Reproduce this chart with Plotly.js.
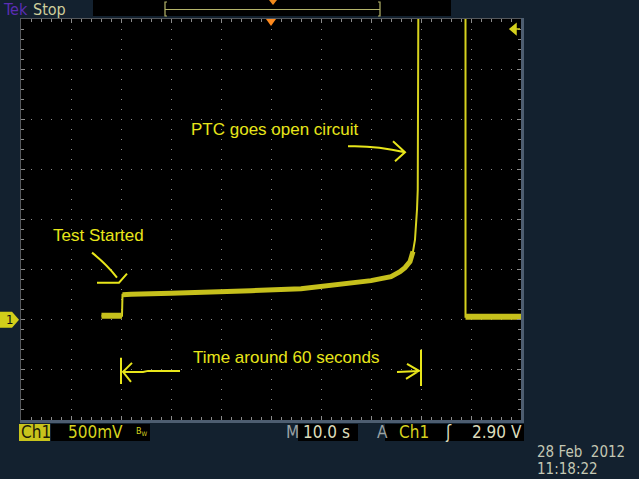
<!DOCTYPE html>
<html>
<head>
<meta charset="utf-8">
<script src="https://cdn.plot.ly/plotly-3.0.1.min.js"></script>
<style>
  html, body { margin: 0; padding: 0; background: #13212f; }
  #scope { width: 639px; height: 479px; }
</style>
</head>
<body>
<div id="scope"></div>
<script>
// Channel 1 capture of a PTC thermistor run (seconds, volts)
const preT  = [-33.9, -29.8];
const preV  = [0.04, 0.04];
const rampT = [-29.7, -28.0, -20.0, -12.0, -4.0, 6.0, 14.0, 20.0, 22.0, 24.0, 25.8, 26.8, 27.8, 28.4, 28.8, 29.0, 29.2, 29.35];
const rampV = [0.25, 0.255, 0.265, 0.275, 0.29, 0.31, 0.35, 0.39, 0.41, 0.43, 0.48, 0.52, 0.58, 0.68, 0.80, 0.92, 1.10, 1.30];
const openT = [29.5, 38.9, 38.9];
const openV = [3.6, 3.6, 0.03];
const postT = [38.9, 50.0];
const postV = [0.03, 0.03];

// Scope settings shown in the readout
const voltsPerDiv  = 0.5;
const secPerDiv    = 10;
const groundLevel  = 0;
const triggerLevel = 2.90;
const channel      = 'Ch1';
const stampDate    = '28 Feb&nbsp; 2012';
const stampTime    = '11:18:22';

// Screen helpers: pixel -> paper fraction of the 500x401 graticule
const PX = x => (x - 21) / 500;
const PY = y => (420 - y) / 401;

const YEL = '#d6d21e';
const NOTE = '#e8e61a';
const GRID = '#8a8a8a';
const CREAM = '#dcdcbc';
const FONT = 'DejaVu Sans Condensed, Liberation Sans Narrow, DejaVu Sans';

const allT = preT.concat(rampT, openT, postT);
const allV = preV.concat(rampV, openV, postV);
const flatN = 14;

const traces = [
  { x: allT, y: allV, type: 'scatter', mode: 'lines', line: { color: YEL, width: 2 }, hoverinfo: 'skip' },
  { x: preT, y: preV, type: 'scatter', mode: 'lines', line: { color: '#c6c01c', width: 6 }, hoverinfo: 'skip' },
  { x: rampT.slice(0, flatN), y: rampV.slice(0, flatN), type: 'scatter', mode: 'lines', line: { color: '#c6c01c', width: 5 }, hoverinfo: 'skip' },
  { x: postT, y: postV, type: 'scatter', mode: 'lines', line: { color: '#c6c01c', width: 6 }, hoverinfo: 'skip' }
];

const xRange = [-5 * secPerDiv, 5 * secPerDiv];
const yRange = [groundLevel - 2 * voltsPerDiv, groundLevel + 6 * voltsPerDiv];

const baseAxis = {
  showticklabels: false, zeroline: false, showline: true, linecolor: '#55585c',
  mirror: 'ticks', ticks: 'inside', ticklen: 4, tickcolor: GRID,
  showgrid: true, gridcolor: GRID, griddash: '1px,9px', gridwidth: 1, fixedrange: true
};
const crossAxis = {
  showticklabels: false, zeroline: false, showline: false, showgrid: false,
  anchor: 'free', position: 0.5, ticklen: 3, tickcolor: GRID, fixedrange: true
};

function txt(text, x, y, opts) {
  return Object.assign({
    text: text, x: x, y: y, xref: 'paper', yref: 'paper', showarrow: false, borderpad: 0,
    xanchor: 'left', yanchor: 'middle', font: { family: FONT, size: 17, color: CREAM }
  }, opts || {});
}
function note(text, x, y) {
  return { text: text, x: x, y: y, xref: 'x', yref: 'y', showarrow: false,
    font: { family: 'Liberation Sans, Arial', size: 17, color: NOTE } };
}
// hand-drawn pointer: path in pixels relative to its tip
function pointer(x, y, path) {
  return { type: 'path', xref: 'x', yref: 'y', xsizemode: 'pixel', ysizemode: 'pixel',
    xanchor: x, yanchor: y, path: path, line: { color: NOTE, width: 2 } };
}

const annotations = [
  note('PTC goes open circuit', 0.8, 1.90),
  note('Test Started', -34.6, 0.84),
  note('Time around 60 seconds', 3.0, -0.38),
  // top status bar
  txt('Tek', PX(2), PY(9), { font: { family: FONT, size: 16, color: '#5b2db4' } }),
  txt('Stop', PX(32), PY(9), { font: { family: FONT, size: 16, color: '#cfcf9c' } }),
  // ground marker label
  { text: '1', x: 0, y: groundLevel, xref: 'paper', yref: 'y', xanchor: 'center', yanchor: 'middle',
    xshift: -12, showarrow: false, font: { family: FONT, size: 13, color: '#101010' } },
  // bottom readout
  txt(channel, PX(20), PY(432), { font: { family: FONT, size: 17, color: '#1c1c08' } }),
  txt((voltsPerDiv * 1000) + 'mV', PX(67), PY(432), { font: { family: FONT, size: 17, color: YEL } }),
  txt('B<sub>W</sub>', PX(135), PY(431), { font: { family: FONT, size: 9, color: YEL } }),
  txt('M', PX(285), PY(432), { font: { family: FONT, size: 17, color: '#9aa2a4' } }),
  txt(secPerDiv.toFixed(1) + ' s', PX(302), PY(432)),
  txt('A', PX(376), PY(432), { font: { family: FONT, size: 17, color: '#9aa2a4' } }),
  txt(channel, PX(398), PY(432), { font: { family: FONT, size: 17, color: YEL } }),
  txt('ʃ', PX(444), PY(432), { font: { family: FONT, size: 17, color: CREAM } }),
  txt(triggerLevel.toFixed(2) + ' V', PX(523), PY(432), { xanchor: 'right' }),
  txt(stampDate, PX(536), PY(452), { font: { family: FONT, size: 15, color: '#c4c8b4' } }),
  txt(stampTime, PX(536), PY(469), { font: { family: FONT, size: 15, color: '#c4c8b4' } })
];

const shapes = [
  // top status bar
  { type: 'rect', xref: 'paper', yref: 'paper', x0: PX(93), x1: PX(451), y0: PY(16), y1: PY(-2), fillcolor: '#000', line: { width: 0 } },
  { type: 'line', xref: 'paper', yref: 'paper', x0: PX(165), x1: PX(380), y0: PY(9.5), y1: PY(9.5), line: { color: '#b4b46a', width: 1.2 } },
  { type: 'path', xref: 'paper', yref: 'paper', path:
      'M' + PX(167) + ',' + PY(2) + ' L' + PX(165) + ',' + PY(2) + ' L' + PX(165) + ',' + PY(16) + ' L' + PX(167) + ',' + PY(16) +
      ' M' + PX(378) + ',' + PY(2) + ' L' + PX(380) + ',' + PY(2) + ' L' + PX(380) + ',' + PY(16) + ' L' + PX(378) + ',' + PY(16),
    line: { color: '#b4b46a', width: 1.2 } },
  { type: 'path', xref: 'paper', yref: 'paper', xsizemode: 'pixel', ysizemode: 'pixel', xanchor: PX(273), yanchor: PY(0),
    path: 'M-4,0 L4,0 L0,-5 Z', fillcolor: '#f08a1c', line: { width: 0 } },
  // trigger position marker
  { type: 'path', xref: 'x', yref: 'paper', xsizemode: 'pixel', ysizemode: 'pixel', xanchor: 0, yanchor: 1,
    path: 'M-5,0 L5,0 L0,-7 Z', fillcolor: '#ff8a1e', line: { width: 0 } },
  // trigger level marker
  { type: 'path', xref: 'paper', yref: 'y', xsizemode: 'pixel', ysizemode: 'pixel', xanchor: 1, yanchor: triggerLevel,
    path: 'M-11,0 L-5,5 L-5,-5 Z M-5,0 L-1,0', fillcolor: YEL, line: { color: YEL, width: 1.5 } },
  // ground marker
  { type: 'path', xref: 'paper', yref: 'y', xsizemode: 'pixel', ysizemode: 'pixel', xanchor: 0, yanchor: groundLevel,
    path: 'M-21,-8 L-9,-8 L-2,0 L-9,8 L-21,8 Z', fillcolor: '#d2ce1a', line: { width: 0 } },
  // graticule frame on the right and bottom
  { type: 'line', xref: 'paper', yref: 'paper', x0: PX(522.5), x1: PX(522.5), y0: PY(421), y1: PY(18), line: { color: '#4d5d70', width: 3 } },
  { type: 'line', xref: 'paper', yref: 'paper', x0: PX(20), x1: PX(524), y0: PY(421.5), y1: PY(421.5), line: { color: '#4d5d70', width: 3 } },
  // readout boxes
  { type: 'rect', xref: 'paper', yref: 'paper', x0: PX(19), x1: PX(50), y0: PY(441), y1: PY(424), fillcolor: '#c8c41c', line: { width: 0 } },
  { type: 'rect', xref: 'paper', yref: 'paper', x0: PX(51), x1: PX(150), y0: PY(441), y1: PY(424), fillcolor: '#000', line: { width: 0 } },
  { type: 'rect', xref: 'paper', yref: 'paper', x0: PX(298), x1: PX(358), y0: PY(441), y1: PY(424), fillcolor: '#000', line: { width: 0 } },
  { type: 'rect', xref: 'paper', yref: 'paper', x0: PX(385), x1: PX(524), y0: PY(441), y1: PY(424), fillcolor: '#000', line: { width: 0 } },
  // hand-drawn pointers
  pointer(26.8, 1.67, 'M-57,6 Q-30,7 0,0 M-12,11 L0,0 L-10,-9'),
  pointer(-30.0, 0.39, 'M-29,28 Q-14,16 -4,3 M-24,-2 L-2,-2 L6,7'),
  pointer(-29.6, -0.52, 'M57,1 L25,1 L20,0 L0,0 M9,9 L0,0 L8,-10'),
  pointer(29.6, -0.51, 'M-22,-1 L0,0 M-12,7 L0,0 L-13,-8'),
  // span markers under the time note
  { type: 'line', xref: 'x', yref: 'y', x0: -30.0, x1: -30.0, y0: -0.38, y1: -0.64, line: { color: NOTE, width: 2 } },
  { type: 'line', xref: 'x', yref: 'y', x0: 30.0, x1: 30.0, y0: -0.30, y1: -0.66, line: { color: NOTE, width: 2 } }
];

const layout = {
  width: 639, height: 479,
  margin: { l: 21, r: 118, t: 19, b: 59, pad: 0 },
  paper_bgcolor: '#13212f', plot_bgcolor: '#000000',
  showlegend: false, hovermode: false,
  xaxis: Object.assign({}, baseAxis, { range: xRange, dtick: secPerDiv, tick0: 0,
    minor: { dtick: secPerDiv / 5, ticks: 'inside', ticklen: 3, tickcolor: GRID, showgrid: false } }),
  yaxis: Object.assign({}, baseAxis, { range: yRange, dtick: voltsPerDiv, tick0: groundLevel,
    minor: { dtick: voltsPerDiv / 5, ticks: 'inside', ticklen: 3, tickcolor: GRID, showgrid: false } }),
  xaxis2: Object.assign({}, crossAxis, { overlaying: 'x', range: xRange, dtick: secPerDiv / 5, ticks: 'outside' }),
  xaxis3: Object.assign({}, crossAxis, { overlaying: 'x', range: xRange, dtick: secPerDiv / 5, ticks: 'inside' }),
  yaxis2: Object.assign({}, crossAxis, { overlaying: 'y', range: yRange, dtick: voltsPerDiv / 5, tick0: groundLevel, ticks: 'outside' }),
  yaxis3: Object.assign({}, crossAxis, { overlaying: 'y', range: yRange, dtick: voltsPerDiv / 5, tick0: groundLevel, ticks: 'inside' }),
  annotations: annotations,
  shapes: shapes
};

Plotly.newPlot('scope', traces, layout, { staticPlot: true, displayModeBar: false });
</script>
</body>
</html>
